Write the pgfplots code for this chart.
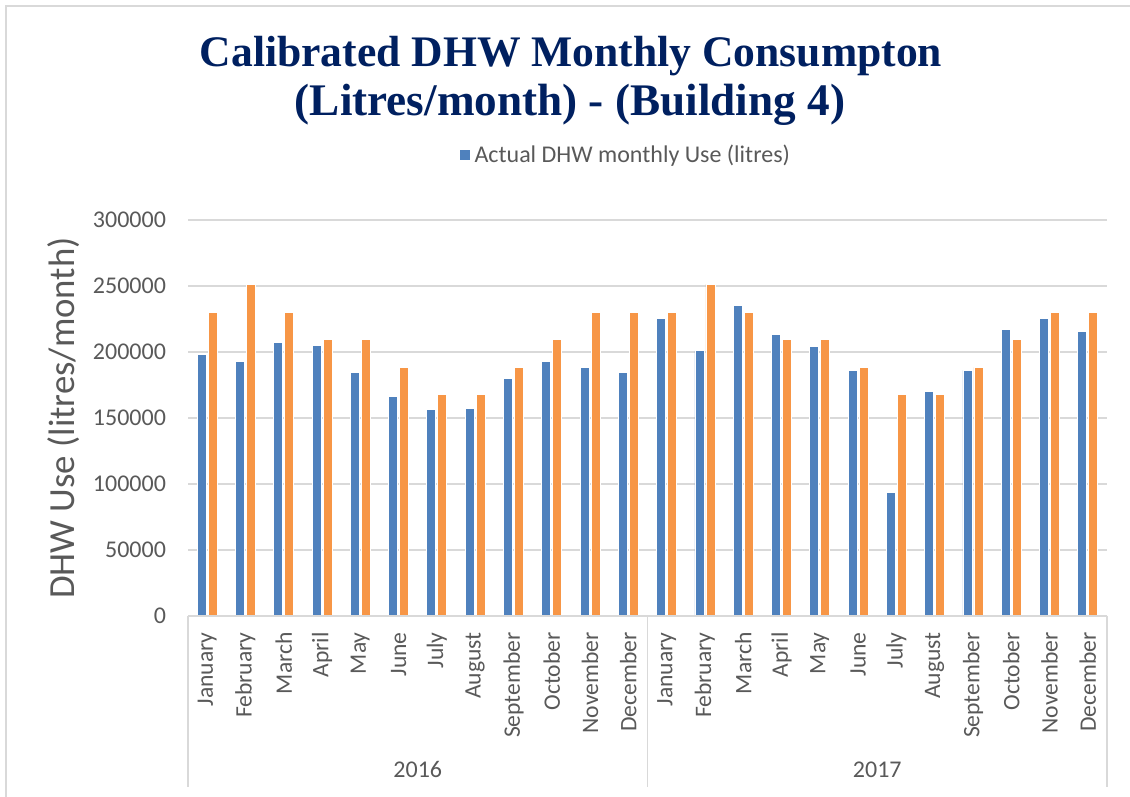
\documentclass[border=0pt]{standalone}
\usepackage{fontspec}
\setmainfont{Carlito}
\newfontfamily\titlefont{Liberation Serif}
\usepackage{pgfplots}
\usepackage{pgfplotstable}
\pgfplotsset{compat=1.18}
\definecolor{dhwBlue}{RGB}{79,129,189}
\definecolor{dhwOrange}{RGB}{247,150,70}
\definecolor{gridgray}{RGB}{217,217,217}
\definecolor{txtgray}{RGB}{89,89,89}
\definecolor{navy}{RGB}{0,32,96}

% x = month index (0-11: 2016, 12-23: 2017)
\pgfplotstableread{
x  actual  calibrated
0  197900  230100
1  192800  251400
2  207300  230100
3  204700  209300
4  184200  209300
5  166000  188300
6  156600  167500
7  157400  167500
8  179700  188300
9  192800  209300
10 188300  230100
11 184700  230100
12 225300  230100
13 200900  251400
14 235200  230100
15 213600  209300
16 204200  209300
17 186200  188300
18 93800   167500
19 170300  167500
20 186000  188300
21 217400  209300
22 225500  230100
23 215900  230100
}\dhwdata

\begin{document}
\begin{tikzpicture}
\path[use as bounding box] (0,0) rectangle (565pt,398.5pt);
\draw[gridgray, line width=0.8pt] (2.85pt,0) -- (2.85pt,395.5pt) -- (566pt,395.5pt);

\node[anchor=base, font=\titlefont\bfseries\fontsize{21.8}{24}\selectfont, text=navy]
  at (285.5pt,365pt) {Calibrated DHW Monthly Consumpton};
\node[anchor=base, font=\titlefont\bfseries\fontsize{22.6}{24}\selectfont, text=navy]
  at (285pt,340.5pt) {(Litres/month) - (Building 4)};

\begin{axis}[
  at={(94pt,90.5pt)}, anchor=south west,
  scale only axis, width=459.5pt, height=198pt,
  xmin=-0.5, xmax=23.5, ymin=0, ymax=300000,
  ybar, bar width=4.5pt,
  clip=false,
  axis line style={draw=none},
  major tick length=0pt,
  ymajorgrids, grid style={gridgray, line width=0.75pt},
  ytick={0,50000,...,300000},
  scaled y ticks=false,
  yticklabel={\pgfmathprintnumber[fixed,precision=0,1000 sep={},assume math mode=true]{\tick}},
  yticklabel style={font=\fontsize{12}{14}\selectfont, text=txtgray, xshift=-7.5pt},
  xtick={0,...,23},
  xticklabels={January,February,March,April,May,June,July,August,September,October,November,December,
               January,February,March,April,May,June,July,August,September,October,November,December},
  xticklabel style={rotate=90, anchor=east, inner xsep=8pt, font=\fontsize{11.8}{14}\selectfont, text=txtgray},
  ylabel={DHW Use (litres/month)},
  ylabel style={at={(axis description cs:-0.135,0.5)}, anchor=center,
                font=\fontsize{18.4}{20}\selectfont, text=txtgray},
  legend style={at={(0.477,1.163)}, anchor=center, draw=none, fill=none,
                font=\fontsize{12}{14}\selectfont, text=txtgray},
  legend image code/.code={\fill[#1] (0pt,-2.4pt) rectangle (5.5pt,3.1pt);},
]
\addplot[fill=dhwBlue, draw=white, line width=0.4pt, bar shift=-2.75pt]
  table[x=x, y=actual] {\dhwdata};
\addplot[fill=dhwOrange, draw=white, line width=0.4pt, bar shift=2.75pt]
  table[x=x, y=calibrated] {\dhwdata};
\legend{Actual DHW monthly Use (litres)}

\draw[gridgray, line width=0.8pt] (axis cs:-0.5,0) -- (axis cs:23.5,0);
\draw[gridgray, line width=0.8pt] (axis cs:-0.5,0) -- ([yshift=-85.5pt]axis cs:-0.5,0);
\draw[gridgray, line width=0.8pt] (axis cs:11.5,0) -- ([yshift=-85.5pt]axis cs:11.5,0);
\draw[gridgray, line width=0.8pt] (axis cs:23.5,0) -- ([yshift=-85.5pt]axis cs:23.5,0);
\node[anchor=base, font=\fontsize{12}{14}\selectfont, text=txtgray]
  at (axis cs:5.5,0) [yshift=-81pt] {2016};
\node[anchor=base, font=\fontsize{12}{14}\selectfont, text=txtgray]
  at (axis cs:17.5,0) [yshift=-81pt] {2017};
\end{axis}
\end{tikzpicture}
\end{document}
